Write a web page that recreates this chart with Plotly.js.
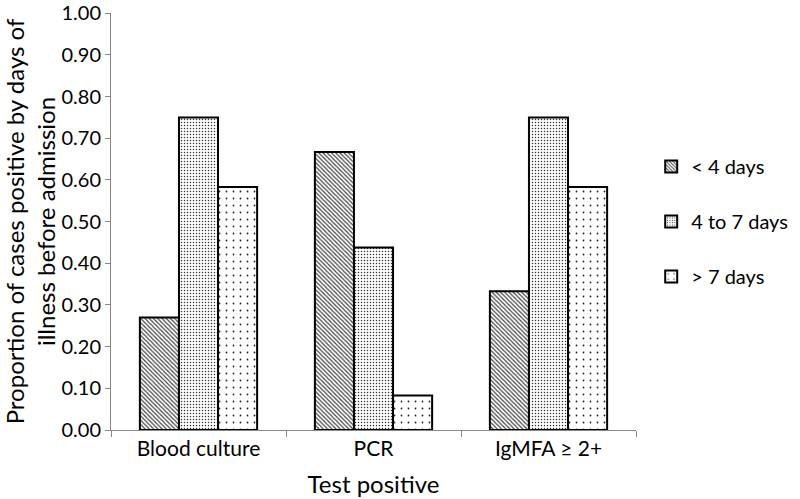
<!DOCTYPE html>
<html>
<head>
<meta charset="utf-8">
<script src="https://cdn.plot.ly/plotly-3.0.1.min.js"></script>
<style>html,body{margin:0;padding:0;background:#fff;}#chart{width:800px;height:499px;}</style>
</head>
<body>
<div id="chart"></div>
<script>
const categories = ["Blood culture", "PCR", "IgMFA \u2265 2+"];
const seriesNames = ["< 4 days", "4 to 7 days", "> 7 days"];
const lessThan4 = [0.27, 0.667, 0.333];
const from4to7 = [0.75, 0.438, 0.75];
const moreThan7 = [0.583, 0.083, 0.583];
const yTicks = [0, 0.1, 0.2, 0.3, 0.4, 0.5, 0.6, 0.7, 0.8, 0.9, 1.0];

const font = "Lato, Open Sans, sans-serif";
const patterns = [
  {shape: "\\", fgcolor: "#444", bgcolor: "#fff", size: 3, solidity: 0.4},
  {shape: ".", fgcolor: "#333", bgcolor: "#fff", size: 3, solidity: 0.2},
  {shape: ".", fgcolor: "#222", bgcolor: "#fff", size: 7, solidity: 0.05}
];
const values = [lessThan4, from4to7, moreThan7];

const traces = values.map((v, i) => ({
  type: "bar",
  name: seriesNames[i],
  x: categories,
  y: v,
  legendgroup: "g" + i,
  marker: {color: "#fff", pattern: patterns[i], line: {color: "#000", width: 2}}
}));

const layout = {
  width: 800, height: 499,
  margin: {l: 111, r: 164, t: 13, b: 69, autoexpand: false},
  paper_bgcolor: "#fff", plot_bgcolor: "#fff",
  barmode: "group", bargap: 0.33, bargroupgap: 0,
  font: {family: font, size: 21, color: "#000"},
  showlegend: true,
  legend: {xref: "container", x: 0.814, y: 0.5, xanchor: "left", yanchor: "middle", font: {size: 20, family: font},
           tracegroupgap: 26, traceorder: "grouped", itemwidth: 30},
  xaxis: {
    type: "category", tickson: "boundaries", ticks: "outside", ticklen: 6, tickcolor: "#888",
    showline: true, linecolor: "#888", linewidth: 1, showgrid: false, automargin: false,
    tickfont: {size: 21, family: font},
    title: {text: "Test positive", font: {size: 24, family: font}, standoff: 16}
  },
  yaxis: {
    range: [0, 1.0005], tickvals: yTicks, tickformat: ".2f", ticks: "outside", ticklen: 5, tickcolor: "#888",
    showline: true, linecolor: "#888", linewidth: 1, showgrid: false, zeroline: false, automargin: false,
    ticklabeloverflow: "allow",
    tickfont: {size: 20, family: font},
    title: {text: "Proportion of cases positive by days of<br>illness before admission", font: {size: 24, family: font}, standoff: 7}
  }
};

Plotly.newPlot("chart", traces, layout, {displayModeBar: false, staticPlot: true});
</script>
</body>
</html>
